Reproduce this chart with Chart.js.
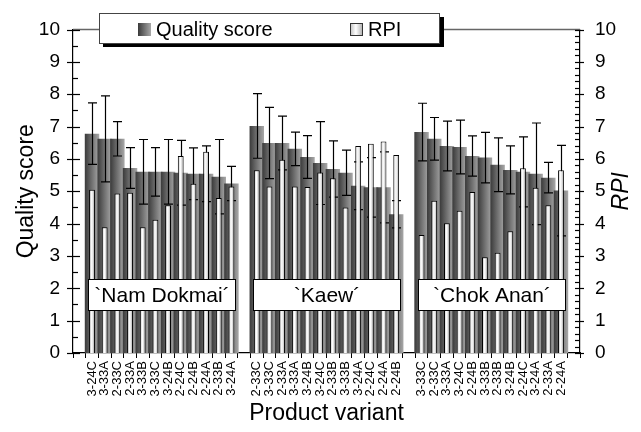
<!DOCTYPE html>
<html><head><meta charset="utf-8">
<script src="https://cdn.jsdelivr.net/npm/chart.js@4.4.1/dist/chart.umd.min.js"></script>
<style>html,body{margin:0;padding:0;background:#fff}canvas{display:block}</style>
</head><body>
<canvas id="c" width="641" height="432"></canvas>
<script>
// ---- data ----
const groupNames = ['`Nam Dokmai\u00B4', '`Kaew\u00B4', '`Chok Anan\u00B4'];

const namDokmaiLabels  = ['3-24C','3-33A','2-33C','2-33A','3-33B','3-33C','3-24B','2-24C','2-24B','2-24A','2-33B','3-24A'];
const namDokmaiQuality = [6.78, 6.62, 6.62, 5.72, 5.60, 5.60, 5.60, 5.57, 5.54, 5.54, 5.45, 5.24];
const namDokmaiError   = [0.95, 1.33, 0.53, 0.63, 1.00, 0.75, 1.00, 1.00, 0.80, 0.86, 1.15, 0.53];
const namDokmaiRPI     = [5.05, 3.89, 4.93, 4.95, 3.89, 4.12, 4.57, 6.09, 5.23, 6.22, 4.79, 5.15];

const kaewLabels  = ['2-33C','3-33C','2-33A','3-33A','3-24B','3-24C','2-33B','3-33B','3-24A','2-24C','2-24A','2-24B'];
const kaewQuality = [7.02, 6.49, 6.49, 6.31, 6.06, 5.87, 5.69, 5.57, 5.17, 5.12, 5.12, 4.29];
const kaewError   = [1.00, 1.10, 0.83, 0.52, 0.66, 1.28, 0.87, 0.70, 0.74, 0.92, 1.10, 0.42];
const kaewRPI     = [5.65, 5.15, 5.97, 5.15, 5.13, 5.58, 5.40, 4.50, 6.40, 6.47, 6.54, 6.12];

const chokAnanLabels  = ['3-33C','2-33C','3-33A','3-24C','2-24B','3-33B','2-33B','3-24B','2-24C','3-24A','2-33A','2-24A'];
const chokAnanQuality = [6.83, 6.62, 6.40, 6.37, 6.09, 6.04, 5.82, 5.66, 5.60, 5.54, 5.42, 5.02];
const chokAnanError   = [0.89, 0.66, 0.77, 0.83, 0.62, 0.78, 0.83, 0.74, 1.08, 1.57, 0.47, 1.40];
const chokAnanRPI     = [3.65, 4.71, 4.01, 4.40, 4.98, 2.96, 3.10, 3.76, 5.71, 5.11, 4.57, 5.65];

const yTicksMax = 10;

// ---- build category table (empty category before/between/after groups) ----
const groups = [
  {labels: namDokmaiLabels, q: namDokmaiQuality, e: namDokmaiError, r: namDokmaiRPI},
  {labels: kaewLabels, q: kaewQuality, e: kaewError, r: kaewRPI},
  {labels: chokAnanLabels, q: chokAnanQuality, e: chokAnanError, r: chokAnanRPI}
];
const labels = [''], quality = [null], qualityErr = [null], rpi = [null], groupStart = [];
groups.forEach(g => {
  groupStart.push(labels.length);
  labels.push(...g.labels); quality.push(...g.q); qualityErr.push(...g.e); rpi.push(...g.r);
  labels.push(''); quality.push(null); qualityErr.push(null); rpi.push(null);
});

const FONT = '"Liberation Sans", Arial, Helvetica, sans-serif';
const Q_PCT = 1.14, R_PCT = 0.46;
const qStops = [[0, '#3a3a3a'], [0.55, '#777777'], [1, '#a8a8a8']];
const rStops = [[0, '#bdbdbd'], [0.45, '#ffffff'], [1, '#a9a9a9']];

function barGradient(c, stops, pct) {
  const chart = c.chart, xs = chart.scales && chart.scales.x;
  if (c.type !== 'data' || !chart.chartArea || !xs) return stops[1][1];
  const cx = xs.getPixelForValue(c.dataIndex);
  const w = (xs.width / labels.length) * pct;
  const g = chart.ctx.createLinearGradient(cx - w / 2, 0, cx + w / 2, 0);
  stops.forEach(s => g.addColorStop(s[0], s[1]));
  return g;
}

const decor = {
  id: 'decor',
  afterDatasetDraw(chart, args) {
    if (args.index !== 0) return;
    const ctx = chart.ctx, xs = chart.scales.x, ys = chart.scales.y;
    ctx.save();
    ctx.strokeStyle = '#000'; ctx.lineWidth = 1.2;
    quality.forEach((v, i) => {
      if (v == null) return;
      const px = Math.round(xs.getPixelForValue(i)) + 0.5;
      const t = ys.getPixelForValue(v + qualityErr[i]);
      const b = ys.getPixelForValue(v - qualityErr[i]);
      ctx.beginPath();
      ctx.moveTo(px, t); ctx.lineTo(px, b);
      ctx.moveTo(px - 4.5, t); ctx.lineTo(px + 4.5, t);
      ctx.moveTo(px - 4.5, b); ctx.lineTo(px + 4.5, b);
      ctx.stroke();
    });
    ctx.restore();
  },
  afterDraw(chart) {
    const ctx = chart.ctx, xs = chart.scales.x, ys = chart.scales.y, y1 = chart.scales.y1;
    const a = chart.chartArea;
    ctx.save();
    // top frame line
    ctx.strokeStyle = '#666'; ctx.lineWidth = 1.5;
    ctx.beginPath(); ctx.moveTo(a.left, a.top); ctx.lineTo(a.right, a.top); ctx.stroke();
    // left axis ticks
    ctx.strokeStyle = '#000'; ctx.lineWidth = 1.2;
    for (let v = 0; v <= yTicksMax; v += 0.5) {
      const py = Math.round(ys.getPixelForValue(v)) + 0.5;
      const major = Number.isInteger(v);
      ctx.beginPath();
      ctx.moveTo(a.left - (major ? 6 : 0), py); ctx.lineTo(a.left + (major ? 7 : 5), py);
      ctx.stroke();
    }
    // right axis ticks
    for (let k = 0; k <= yTicksMax * 5; k++) {
      const v = k / 5;
      const py = Math.round(y1.getPixelForValue(v)) + 0.5;
      const major = k % 5 === 0;
      ctx.beginPath();
      ctx.moveTo(a.right - 5, py); ctx.lineTo(a.right + (major ? 4 : 0), py);
      ctx.stroke();
    }
    // group label boxes
    const cat = xs.width / labels.length;
    ctx.font = '21px ' + FONT; ctx.textAlign = 'center'; ctx.textBaseline = 'middle';
    groupNames.forEach((name, gi) => {
      const f = groupStart[gi], l = f + groups[gi].labels.length - 1;
      const x0 = Math.round(xs.getPixelForValue(f) - cat / 2 + 2.5) + 0.5;
      const x1 = Math.round(xs.getPixelForValue(l) + cat / 2 - 2.5) + 0.5;
      const t = Math.round(ys.getPixelForValue(2.28)) + 0.5;
      const b = Math.round(ys.getPixelForValue(1.32)) + 0.5;
      ctx.fillStyle = '#fff'; ctx.fillRect(x0, t, x1 - x0, b - t);
      ctx.strokeStyle = '#000'; ctx.lineWidth = 1; ctx.strokeRect(x0, t, x1 - x0, b - t);
      ctx.fillStyle = '#000'; ctx.fillText(name, (x0 + x1) / 2, (t + b) / 2 + 1);
    });
    // legend
    ctx.fillStyle = '#000'; ctx.fillRect(103, 17, 341, 30);
    ctx.fillStyle = '#fff'; ctx.fillRect(99, 13, 341, 30);
    ctx.strokeStyle = '#444'; ctx.lineWidth = 1; ctx.strokeRect(99.5, 13.5, 340, 30);
    let g = ctx.createLinearGradient(138, 0, 151, 0);
    qStops.forEach(s => g.addColorStop(s[0], s[1]));
    ctx.fillStyle = g; ctx.fillRect(138, 23, 13, 13);
    g = ctx.createLinearGradient(350, 0, 363, 0);
    rStops.forEach(s => g.addColorStop(s[0], s[1]));
    ctx.fillStyle = g; ctx.fillRect(350, 23, 13, 13);
    ctx.strokeStyle = '#333'; ctx.strokeRect(350.5, 23.5, 12, 12);
    ctx.fillStyle = '#000'; ctx.font = '20px ' + FONT; ctx.textAlign = 'left'; ctx.textBaseline = 'middle';
    ctx.fillText('Quality score', 156, 30);
    ctx.fillText('RPI', 368, 30);
    // right axis title
    ctx.translate(622, (a.top + a.bottom) / 2);
    ctx.rotate(-Math.PI / 2);
    ctx.font = 'italic 23px ' + FONT; ctx.textAlign = 'center';
    ctx.fillText('RPI', 0, 0);
    ctx.restore();
  }
};

new Chart(document.getElementById('c'), {
  type: 'bar',
  data: {
    labels: labels,
    datasets: [
      {
        label: 'Quality score', data: quality, yAxisID: 'y', grouped: false, order: 2,
        barPercentage: Q_PCT, categoryPercentage: 1, borderWidth: 0,
        backgroundColor: c => barGradient(c, qStops, Q_PCT)
      },
      {
        label: 'RPI', data: rpi, yAxisID: 'y1', grouped: false, order: 1,
        barPercentage: R_PCT, categoryPercentage: 1, borderWidth: 1, borderColor: '#000',
        backgroundColor: c => barGradient(c, rStops, R_PCT)
      }
    ]
  },
  options: {
    responsive: false, animation: false, devicePixelRatio: 1,
    layout: {padding: {top: 29.5, left: 0, right: 0, bottom: 0}},
    plugins: {legend: {display: false}, tooltip: {enabled: false}},
    scales: {
      x: {
        offset: true,
        grid: {offset: true, drawOnChartArea: false, drawTicks: true, tickLength: 5, color: '#000', lineWidth: 1},
        border: {display: true, color: '#000', width: 1.2},
        ticks: {autoSkip: false, minRotation: 90, maxRotation: 90, padding: 3, color: '#000', font: {family: FONT, size: 13}},
        title: {display: true, text: 'Product variant', color: '#000', font: {family: FONT, size: 23}, padding: {top: 0, bottom: 5}},
        afterFit: s => { s.height = 79; }
      },
      y: {
        position: 'left', min: 0, max: 10,
        grid: {display: false, drawTicks: false},
        border: {display: true, color: '#000', width: 1.2},
        ticks: {stepSize: 1, padding: 13, color: '#000', font: {family: FONT, size: 19}},
        title: {display: true, text: 'Quality score', color: '#000', font: {family: FONT, size: 23}, padding: {top: 13, bottom: 0}},
        afterFit: s => { s.width = 73; }
      },
      y1: {
        position: 'right', min: 0, max: 10,
        grid: {display: false, drawTicks: false},
        border: {display: true, color: '#000', width: 1.2},
        ticks: {stepSize: 1, padding: 15, color: '#000', font: {family: FONT, size: 19}},
        afterFit: s => { s.width = 61; }
      }
    }
  },
  plugins: [decor]
});
</script>
</body></html>
